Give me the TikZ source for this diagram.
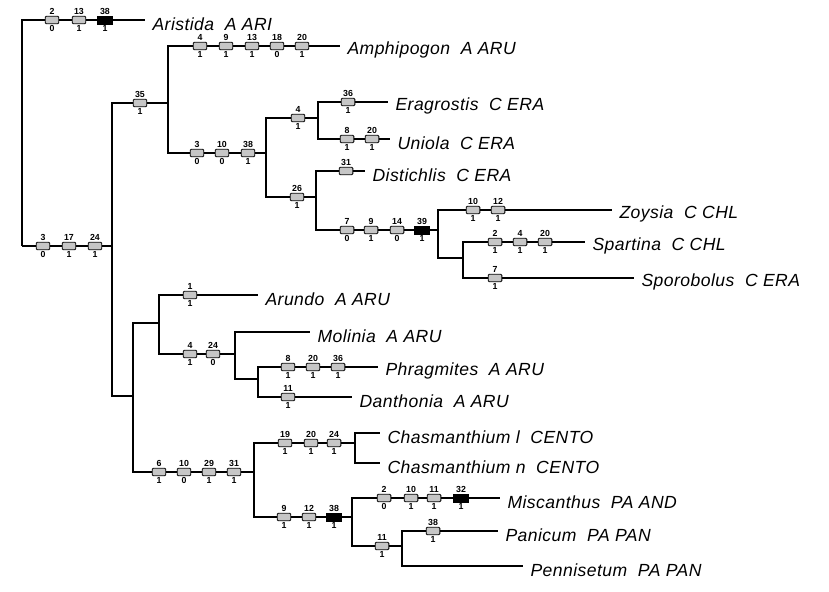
\documentclass[tikz,border=0pt]{standalone}
\usepackage{fontspec}
\setmainfont{Liberation Sans}
\newfontfamily\taxfont{Liberation Sans}[LetterSpace=2.5]
\usetikzlibrary{positioning}

\begin{document}
\begin{tikzpicture}[x=0.02cm,y=-0.02cm,line width=.6pt,
  every node/.style={font=\small},
  num/.style={font=\fontsize{5}{5.5}\selectfont\bfseries,inner sep=.4pt},
  ch/.style 2 args={draw,line width=.45pt,fill=gray!45,rounded corners=.6pt,
    minimum width=7.8pt,minimum height=4.2pt,inner sep=0pt,label distance=.3pt,
    label={[num]above:#1},label={[num]below:#2}},
  chb/.style 2 args={ch={#1}{#2},fill=black,rounded corners=0pt,minimum width=8.4pt,minimum height=4.6pt},
  taxon/.style={font={\fontsize{10}{12}\selectfont\taxfont\itshape},inner sep=0pt,yshift=-2.5pt}]
\useasboundingbox (0,0) rectangle (829,592);
% branching points
\coordinate (n0) at (22,246);
\coordinate (n1) at (112,246);
\coordinate (n2) at (168,103);
\coordinate (n3) at (266,153);
\coordinate (n4) at (318,118);
\coordinate (n5) at (316,197);
\coordinate (n6) at (438,230);
\coordinate (n7) at (463,258);
\coordinate (n8) at (159,323);
\coordinate (n9) at (133,396);
\coordinate (n10) at (235,354);
\coordinate (n11) at (258,379);
\coordinate (n12) at (254,472);
\coordinate (n13) at (355,443);
\coordinate (n14) at (352,517);
\coordinate (n15) at (402,546);
% tips
\coordinate (eAri) at (145,20);
\coordinate (eAmp) at (340,46);
\coordinate (eEra) at (388,102);
\coordinate (eUni) at (390,139);
\coordinate (eDis) at (365,171);
\coordinate (eZoy) at (612,210);
\coordinate (eSpa) at (585,242);
\coordinate (eSpo) at (634,278);
\coordinate (eAru) at (258,295);
\coordinate (eMol) at (310,332);
\coordinate (ePhr) at (378,367);
\coordinate (eDan) at (352,397);
\coordinate (eChl) at (380,433);
\coordinate (eChn) at (380,463);
\coordinate (eMis) at (500,498);
\coordinate (ePan) at (498,531);
\coordinate (ePen) at (523,566);
% tree
\draw (n0) |- (eAri);
\draw (n0) |- (n1);
\draw (n1) |- (n2);
\draw (n1) |- (n9);
\draw (n2) |- (eAmp);
\draw (n2) |- (n3);
\draw (n3) |- (n4);
\draw (n3) |- (n5);
\draw (n4) |- (eEra);
\draw (n4) |- (eUni);
\draw (n5) |- (eDis);
\draw (n5) |- (n6);
\draw (n6) |- (eZoy);
\draw (n6) |- (n7);
\draw (n7) |- (eSpa);
\draw (n7) |- (eSpo);
\draw (n9) |- (n8);
\draw (n9) |- (n12);
\draw (n8) |- (eAru);
\draw (n8) |- (n10);
\draw (n10) |- (eMol);
\draw (n10) |- (n11);
\draw (n11) |- (ePhr);
\draw (n11) |- (eDan);
\draw (n12) |- (n13);
\draw (n12) |- (n14);
\draw (n13) |- (eChl);
\draw (n13) |- (eChn);
\draw (n14) |- (eMis);
\draw (n14) |- (n15);
\draw (n15) |- (ePan);
\draw (n15) |- (ePen);
% character changes
\node[ch={2}{0}] (ari1) at (52,20) {};
\node[ch={13}{1}] (ari2) at (79,20) {};
\node[chb={38}{1}] (ari3) at (105,20) {};
\node[ch={3}{0}] (r1) at (43,246) {};
\node[ch={17}{1}] (r2) at (69,246) {};
\node[ch={24}{1}] (r3) at (95,246) {};
\node[ch={35}{1}] (u1) at (140,103) {};
\node[ch={4}{1}] (amp1) at (200,46) {};
\node[ch={9}{1}] (amp2) at (226,46) {};
\node[ch={13}{1}] (amp3) at (252,46) {};
\node[ch={18}{0}] (amp4) at (277,46) {};
\node[ch={20}{1}] (amp5) at (302,46) {};
\node[ch={3}{0}] (c1) at (197,153) {};
\node[ch={10}{0}] (c2) at (222,153) {};
\node[ch={38}{1}] (c3) at (248,153) {};
\node[ch={4}{1}] (eu1) at (298,118) {};
\node[ch={36}{1}] (era1) at (348,102) {};
\node[ch={8}{1}] (uni1) at (347,139) {};
\node[ch={20}{1}] (uni2) at (372,139) {};
\node[ch={26}{1}] (dz1) at (297,197) {};
\node[ch={31}{}] (dis1) at (346,171) {};
\node[ch={7}{0}] (z1) at (347,230) {};
\node[ch={9}{1}] (z2) at (371,230) {};
\node[ch={14}{0}] (z3) at (397,230) {};
\node[chb={39}{1}] (z4) at (422,230) {};
\node[ch={10}{1}] (zoy1) at (473,210) {};
\node[ch={12}{1}] (zoy2) at (498,210) {};
\node[ch={2}{1}] (spa1) at (495,242) {};
\node[ch={4}{1}] (spa2) at (520,242) {};
\node[ch={20}{1}] (spa3) at (545,242) {};
\node[ch={7}{1}] (spo1) at (495,278) {};
\node[ch={1}{1}] (aru1) at (190,295) {};
\node[ch={4}{1}] (m1) at (190,354) {};
\node[ch={24}{0}] (m2) at (213,354) {};
\node[ch={8}{1}] (phr1) at (288,367) {};
\node[ch={20}{1}] (phr2) at (313,367) {};
\node[ch={36}{1}] (phr3) at (338,367) {};
\node[ch={11}{1}] (dan1) at (288,397) {};
\node[ch={6}{1}] (p1) at (159,472) {};
\node[ch={10}{0}] (p2) at (184,472) {};
\node[ch={29}{1}] (p3) at (209,472) {};
\node[ch={31}{1}] (p4) at (234,472) {};
\node[ch={19}{1}] (cen1) at (285,443) {};
\node[ch={20}{1}] (cen2) at (311,443) {};
\node[ch={24}{1}] (cen3) at (334,443) {};
\node[ch={9}{1}] (pa1) at (284,517) {};
\node[ch={12}{1}] (pa2) at (309,517) {};
\node[chb={38}{1}] (pa3) at (334,517) {};
\node[ch={2}{0}] (mis1) at (384,498) {};
\node[ch={10}{1}] (mis2) at (411,498) {};
\node[ch={11}{1}] (mis3) at (434,498) {};
\node[chb={32}{1}] (mis4) at (461,498) {};
\node[ch={11}{1}] (pp1) at (382,546) {};
\node[ch={38}{1}] (pan1) at (433,531) {};
% taxa
\node[taxon,right=4pt of eAri] (tAri) {Aristida\ \ A ARI};
\node[taxon,right=4pt of eAmp] (tAmp) {Amphipogon\ \ A ARU};
\node[taxon,right=4pt of eEra] (tEra) {Eragrostis\ \ C ERA};
\node[taxon,right=4pt of eUni] (tUni) {Uniola\ \ C ERA};
\node[taxon,right=4pt of eDis] (tDis) {Distichlis\ \ C ERA};
\node[taxon,right=4pt of eZoy] (tZoy) {Zoysia\ \ C CHL};
\node[taxon,right=4pt of eSpa] (tSpa) {Spartina\ \ C CHL};
\node[taxon,right=4pt of eSpo] (tSpo) {Sporobolus\ \ C ERA};
\node[taxon,right=4pt of eAru] (tAru) {Arundo\ \ A ARU};
\node[taxon,right=4pt of eMol] (tMol) {Molinia\ \ A ARU};
\node[taxon,right=4pt of ePhr] (tPhr) {Phragmites\ \ A ARU};
\node[taxon,right=4pt of eDan] (tDan) {Danthonia\ \ A ARU};
\node[taxon,right=4pt of eChl] (tChl) {Chasmanthium l\ \ CENTO};
\node[taxon,right=4pt of eChn] (tChn) {Chasmanthium n\ \ CENTO};
\node[taxon,right=4pt of eMis] (tMis) {Miscanthus\ \ PA AND};
\node[taxon,right=4pt of ePan] (tPan) {Panicum\ \ PA PAN};
\node[taxon,right=4pt of ePen] (tPen) {Pennisetum\ \ PA PAN};
\end{tikzpicture}
\end{document}
